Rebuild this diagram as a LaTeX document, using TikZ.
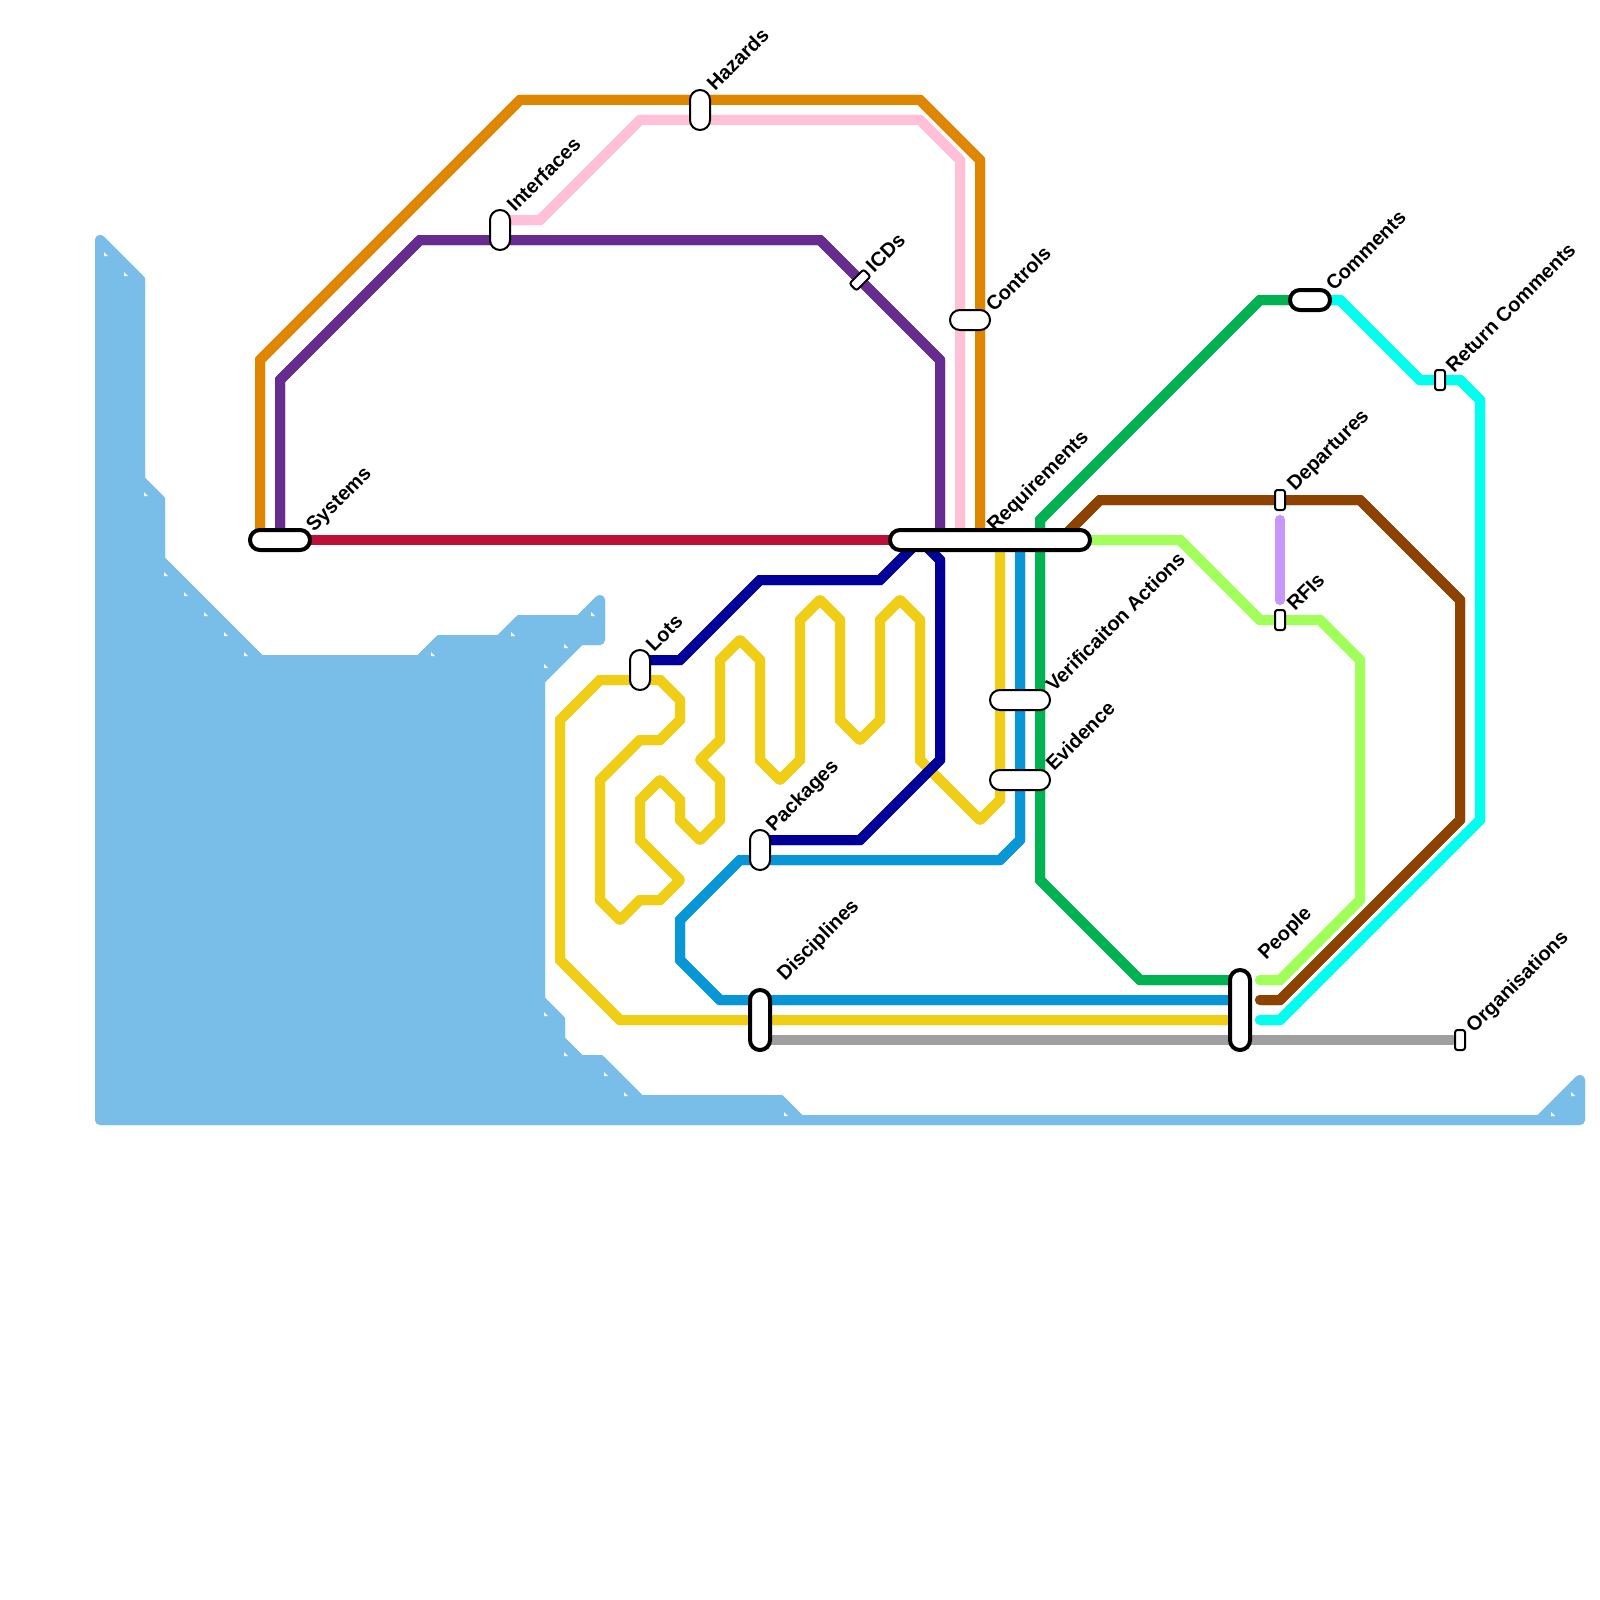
\documentclass[tikz,border=0pt]{standalone}
\usepackage{fontspec}
\setmainfont{Liberation Sans}
\pgfdeclarelayer{lines}
\pgfsetlayers{lines,main}
\definecolor{cwater}{HTML}{79BDE9}
\definecolor{corange}{HTML}{DF8600}
\definecolor{cpurple}{HTML}{662C90}
\definecolor{cpink}{HTML}{FFC0D8}
\definecolor{ccrimson}{HTML}{BD1038}
\definecolor{cnavy}{HTML}{000099}
\definecolor{cyellow}{HTML}{F0CE15}
\definecolor{cblue}{HTML}{0896D7}
\definecolor{cgreen}{HTML}{00B251}
\definecolor{cbrown}{HTML}{8E4200}
\definecolor{clime}{HTML}{A2FF5A}
\definecolor{ccyan}{HTML}{00FFEE}
\definecolor{clilac}{HTML}{C896FF}
\definecolor{cgrey}{HTML}{A0A0A0}
\tikzset{
  x=1pt,y=-1pt,
  metro/.style={line width=10pt,line cap=round},
  stn/.style={draw=black,fill=white,line width=2pt,inner sep=0pt,outer sep=0pt,rectangle,rounded corners=9.9pt},
  stnbig/.style={stn,line width=4pt},
  stnsmall/.style={stn,rounded corners=2.5pt,minimum width=10pt,minimum height=20pt},
  vert/.style={minimum width=20pt,minimum height=40pt},
  horz/.style={minimum width=40pt,minimum height=20pt},
  lab/.style={rotate=45,anchor=base west,inner sep=0pt,font=\bfseries\fontsize{20}{24}\selectfont},
  speck/.style={fill=white,draw=none}
}
% a line drawn twice: mitred at wide bends, round at tight ones
\newcommand{\metroline}[2]{%
  \draw[metro,#1,line join=round] #2;
  \draw[metro,#1,line join=miter,miter limit=1.2] #2;
}
\begin{document}
\begin{tikzpicture}
\path[use as bounding box] (0,0) rectangle (1600,1600);
% stations
\node[stnbig,minimum width=60pt,minimum height=20pt] (sys) at (280,540) {};
\node[stnbig,minimum width=200pt,minimum height=20pt] (req) at (990,540) {};
\node[stn,vert] (intf) at (500,230) {};
\node[stn,vert] (haz) at (700,110) {};
\node[stnsmall,rotate=-45] (icd) at (860,280) {};
\node[stn,horz] (ctrl) at (970,320) {};
\node[stn,minimum width=60pt,minimum height=20pt] (ver) at (1020,700) {};
\node[stn,minimum width=60pt,minimum height=20pt] (evi) at (1020,780) {};
\node[stn,vert] (lots) at (640,670) {};
\node[stn,vert] (pack) at (760,850) {};
\node[stnbig,minimum width=20pt,minimum height=60pt] (disc) at (760,1020) {};
\node[stnbig,minimum width=20pt,minimum height=80pt] (people) at (1240,1010) {};
\node[stnbig,horz] (comm) at (1310,300) {};
\node[stnsmall] (ret) at (1440,380) {};
\node[stnsmall] (dep) at (1280,500) {};
\node[stnsmall] (rfi) at (1280,620) {};
\node[stnsmall] (org) at (1460,1040) {};
% free ends
\coordinate (lilacA) at (1280,520);
\coordinate (lilacB) at (1280,600);
\coordinate (limeEnd) at (1260,980);
\coordinate (brownEnd) at (1260,1000);
\coordinate (cyanEnd) at (1260,1020);
% labels
\node[lab] (tsys) at (314,533) {Systems};
\node[lab] (treq) at (995,533) {Requirements};
\node[lab] (tintf) at (515,213) {Interfaces};
\node[lab] (thaz) at (715,92) {Hazards};
\node[lab] (ticd) at (874,274) {ICDs};
\node[lab] (tctrl) at (994,313) {Controls};
\node[lab] (tver) at (1054,693) {Verificaiton Actions};
\node[lab] (tevi) at (1054,772) {Evidence};
\node[lab] (tlots) at (654,653) {Lots};
\node[lab] (tpack) at (774,833) {Packages};
\node[lab] (tdisc) at (785,982) {Disciplines};
\node[lab] (tpeople) at (1266,961) {People};
\node[lab] (tcomm) at (1334,292) {Comments};
\node[lab] (tret) at (1454,374) {Return Comments};
\node[lab] (tdep) at (1295,492) {Departures};
\node[lab] (trfi) at (1295,612) {RFIs};
\node[lab] (torg) at (1474,1034) {Organisations};
\begin{pgfonlayer}{lines}
\fill[white] (0,0) rectangle (1600,1600);
% water
\def\waterpath{(100,240) -- (140,280) -- (140,480) -- (160,500) -- (160,560) -- (260,660) -- (420,660) -- (440,640)
 -- (500,640) -- (520,620) -- (580,620) -- (600,600) -- (600,640) -- (580,640) -- (540,680) -- (540,1000)
 -- (560,1020) -- (560,1040) -- (580,1060) -- (600,1060) -- (640,1100) -- (780,1100) -- (800,1120)
 -- (1540,1120) -- (1580,1080) -- (1580,1120) -- (100,1120) -- cycle}
\fill[cwater,draw=cwater,line width=10pt,line join=round] \waterpath;
\draw[cwater,line width=10pt,line join=miter,miter limit=1.2] \waterpath;
\foreach \p in {(106,254),(126,274),(146,494),(166,574),(186,594),(206,614),(226,634),(246,654),(433,654),(513,634),(546,666),(566,646),(593,614),(546,1014),(566,1054),(606,1074),(626,1094),(786,1114),(1553,1114),(1573,1094)}
  \fill[speck] \p ++(-2,-2) -- ++(0,4) -- ++(4,0) -- cycle;
% lines
\metroline{corange}{([xshift=-20pt]sys.center) -- (260,360) -- (520,100) -- (920,100) -- (980,160) -- ([xshift=-10pt]req.center)}
\metroline{cpurple}{(sys.center) -- (280,380) -- (420,240) -- (820,240) -- (940,360) -- ([xshift=-50pt]req.center)}
\metroline{cpink}{([yshift=10pt]intf.center) -- (540,220) -- (640,120) -- (920,120) -- (960,160) -- ([xshift=-30pt]req.center)}
\metroline{ccrimson}{(sys.center) -- (req.center)}
\metroline{cyellow}{([xshift=10pt]req.center) -- (1000,800) -- (980,820) -- (920,760) -- (920,620) -- (900,600) -- (880,620) -- (880,720) -- (860,740) -- (840,720) -- (840,620) -- (820,600) -- (800,620) -- (800,760) -- (780,780) -- (760,760) -- (760,660) -- (740,640) -- (720,660) -- (720,740) -- (700,760) -- (720,780) -- (720,820) -- (700,840) -- (680,820) -- (680,800) -- (660,780) -- (640,800) -- (640,840) -- (680,880) -- (660,900) -- (640,900) -- (620,920) -- (600,900) -- (600,780) -- (640,740) -- (660,740) -- (680,720) -- (680,700) -- (660,680) -- (600,680) -- (560,720) -- (560,960) -- (620,1020) -- ([yshift=-10pt]people.center)}
\metroline{cnavy}{([yshift=10pt]lots.center) -- (680,660) -- (760,580) -- (880,580) -- (920,540) -- (940,560) -- (940,760) -- (860,840) -- ([yshift=10pt]pack.center)}
\metroline{cblue}{([xshift=30pt]req.center) -- (1020,840) -- (1000,860) -- (740,860) -- (680,920) -- (680,960) -- (720,1000) -- ([yshift=10pt]people.center)}
\metroline{cgreen}{([yshift=30pt]people.center) -- (1140,980) -- (1040,880) -- (1040,520) -- (1260,300) -- (comm.center)}
\metroline{ccyan}{(comm.center) -- (1340,300) -- (1420,380) -- (1460,380) -- (1480,400) -- (1480,820) -- (1280,1020) -- (cyanEnd)}
\metroline{cbrown}{(brownEnd) -- (1280,1000) -- (1460,820) -- (1460,600) -- (1360,500) -- (1100,500) -- ([xshift=70pt]req.center)}
\metroline{clime}{(limeEnd) -- (1280,980) -- (1360,900) -- (1360,660) -- (1320,620) -- (1260,620) -- (1180,540) -- (req.center)}
\metroline{clilac}{(lilacA) -- (lilacB)}
\metroline{cgrey}{([yshift=-20pt]disc.center) -- (org.center)}
\end{pgfonlayer}
\end{tikzpicture}
\end{document}
